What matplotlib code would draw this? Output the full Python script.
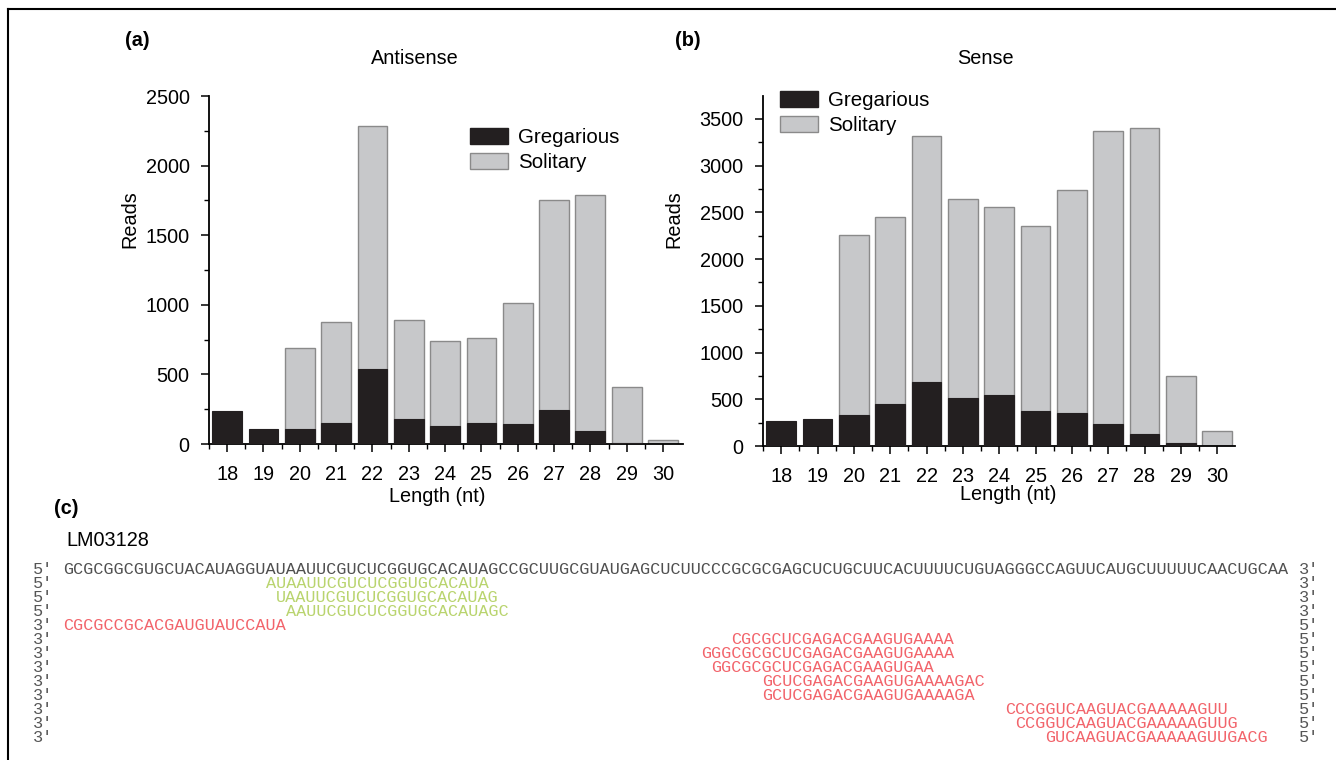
import matplotlib
matplotlib.use("Agg")
import matplotlib.pyplot as plt
from matplotlib.patches import Patch
from matplotlib.lines import Line2D
from matplotlib.ticker import MultipleLocator

# ---------------- data ----------------
lengths = [18, 19, 20, 21, 22, 23, 24, 25, 26, 27, 28, 29, 30]
antisense_gregarious = [236, 107, 110, 153, 540, 181, 131, 153, 143, 246, 91, 5, 0]
antisense_solitary = [0, 0, 690, 879, 2283, 891, 743, 764, 1015, 1755, 1786, 406, 26]
sense_gregarious = [265, 286, 329, 454, 686, 515, 551, 375, 358, 240, 132, 29, 0]
sense_solitary = [0, 0, 2256, 2449, 3314, 2642, 2553, 2356, 2739, 3371, 3404, 754, 157]

precursor_name = "LM03128"
precursor_seq = ("GCGCGGCGUGCUACAUAGGUAUAAUUCGUCUCGGUGCACAUAGCCGCUUGCGUAUGAGCUCUUCCC"
                 "GCGCGAGCUCUGCUUCACUUUUCUGUAGGGCCAGUUCAUGCUUUUUCAACUGCAA")
small_rnas = [
    "AUAAUUCGUCUCGGUGCACAUA",
    "UAAUUCGUCUCGGUGCACAUAG",
    "AAUUCGUCUCGGUGCACAUAGC",
    "CGCGCCGCACGAUGUAUCCAUA",
    "CGCGCUCGAGACGAAGUGAAAA",
    "GGGCGCGCUCGAGACGAAGUGAAAA",
    "GGCGCGCUCGAGACGAAGUGAA",
    "GCUCGAGACGAAGUGAAAAGAC",
    "GCUCGAGACGAAGUGAAAAGA",
    "CCCGGUCAAGUACGAAAAAGUU",
    "CCGGUCAAGUACGAAAAAGUUG",
    "GUCAAGUACGAAAAAGUUGACG",
]
small_rna_start = [20, 21, 22, 0, 66, 63, 64, 69, 69, 93, 94, 97]
small_rna_strand = ["sense", "sense", "sense", "anti", "anti", "anti", "anti",
                    "anti", "anti", "anti", "anti", "anti"]

# ---------------- style ----------------
W, H = 1336, 760
fig = plt.figure(figsize=(W / 100, H / 100), dpi=100)
plt.rcParams['font.family'] = ['Liberation Sans', 'DejaVu Sans']

BLACK = "#231f20"
GRAY = "#c7c8ca"
GRAY_EDGE = "#8a8a8a"
FS = 14.3


def fx(px):
    return px / W


def fy(py):
    return 1 - py / H


def make_panel(rect, greg, sol, ylim, xlim, legend_anchor):
    ax = fig.add_axes(rect)
    ax.bar(lengths, sol, width=0.82, color=GRAY, edgecolor=GRAY_EDGE,
           linewidth=1.0, zorder=2)
    ax.bar(lengths, greg, width=0.82, color=BLACK, edgecolor=BLACK,
           linewidth=0.8, zorder=3)
    ax.set_xlim(*xlim)
    ax.set_ylim(*ylim)
    for s in ("top", "right"):
        ax.spines[s].set_visible(False)
    for s in ("left", "bottom"):
        ax.spines[s].set_linewidth(1.3)
        ax.spines[s].set_color("black")
    ax.set_xticks(lengths)
    ax.set_xticklabels([str(v) for v in lengths])
    ax.set_xticks([v + 0.5 for v in lengths[:-1]] + [lengths[0] - 0.5], minor=True)
    ax.yaxis.set_major_locator(MultipleLocator(500))
    ax.yaxis.set_minor_locator(MultipleLocator(250))
    ax.tick_params(axis="both", which="major", labelsize=FS, length=6,
                   width=1.1, direction="out", colors="black")
    ax.tick_params(axis="both", which="minor", length=3.5, width=1.0,
                   direction="out")
    ax.tick_params(axis="x", which="major", pad=9)
    ax.tick_params(axis="y", which="major", pad=8)
    handles = [Patch(facecolor=BLACK, edgecolor=BLACK, label="Gregarious"),
               Patch(facecolor=GRAY, edgecolor=GRAY_EDGE, label="Solitary")]
    fig.legend(handles=handles, loc="upper left",
               bbox_to_anchor=legend_anchor, bbox_transform=fig.transFigure,
               frameon=False, fontsize=14.8, borderpad=0, borderaxespad=0,
               handlelength=1.85, handleheight=0.8, handletextpad=0.5,
               labelspacing=0.3)
    return ax


ax1 = make_panel([fx(209), fy(444), fx(683) - fx(209), fy(96) - fy(444)],
                 antisense_gregarious, antisense_solitary,
                 (0, 2500), (17.56, 30.55), (fx(470), fy(128)))
ax2 = make_panel([fx(763), fy(446), fx(1235) - fx(763), fy(96) - fy(446)],
                 sense_gregarious, sense_solitary,
                 (0, 3746), (17.53, 30.49), (fx(780), fy(91)))

# axis labels / titles
fig.text(fx(130), fy(219), "Reads", rotation=90, ha="center", va="center", fontsize=FS)
fig.text(fx(674), fy(219), "Reads", rotation=90, ha="center", va="center", fontsize=FS)
fig.text(fx(437), fy(497), "Length (nt)", ha="center", va="center", fontsize=FS)
fig.text(fx(1008), fy(495), "Length (nt)", ha="center", va="center", fontsize=FS)
fig.text(fx(415), fy(59), "Antisense", ha="center", va="center", fontsize=FS)
fig.text(fx(985), fy(59), "Sense", ha="center", va="center", fontsize=FS)
fig.text(fx(137), fy(40), "(a)", ha="center", va="center", fontsize=FS, fontweight="bold")
fig.text(fx(688), fy(40), "(b)", ha="center", va="center", fontsize=FS, fontweight="bold")
fig.text(fx(66), fy(508), "(c)", ha="center", va="center", fontsize=FS, fontweight="bold")
fig.text(fx(66), fy(541), precursor_name, ha="left", va="center", fontsize=FS)

# frame lines (partial border)
fig.add_artist(Line2D([fx(8), fx(8)], [fy(9), 0], color="black", lw=1.5,
                      transform=fig.transFigure))
fig.add_artist(Line2D([fx(8), 1], [fy(9), fy(9)], color="black", lw=1.5,
                      transform=fig.transFigure))

# ---------------- sequence panel ----------------
MONO = ["Liberation Mono", "DejaVu Sans Mono"]
SFS = 12.15
CW = 10.13          # character advance in pixels
SEQ_X = 63          # left pixel of the precursor sequence
row0 = 569
dy = 14.08
PRE_COL = "#555555"
SEQ_COL = "#505050"
GREEN = "#b9d46e"
RED = "#f2646b"
L = len(precursor_seq)

rows = [("5'", "3'", precursor_seq, 0, SEQ_COL)]
for seq, st, strand in zip(small_rnas, small_rna_start, small_rna_strand):
    if strand == "sense":
        rows.append(("5'", "3'", seq, st, GREEN))
    else:
        rows.append(("3'", "5'", seq, st, RED))

for i, (pre, suf, seq, st, col) in enumerate(rows):
    y = fy(row0 + dy * i)
    fig.text(fx(SEQ_X - 3 * CW), y, pre, family=MONO, fontsize=SFS,
             color=PRE_COL, ha="left", va="center")
    fig.text(fx(SEQ_X + st * CW), y, seq, family=MONO, fontsize=SFS,
             color=col, ha="left", va="center")
    fig.text(fx(SEQ_X + (L + 1) * CW), y, suf, family=MONO, fontsize=SFS,
             color=PRE_COL, ha="left", va="center")

fig.savefig("out.png", dpi=100)
